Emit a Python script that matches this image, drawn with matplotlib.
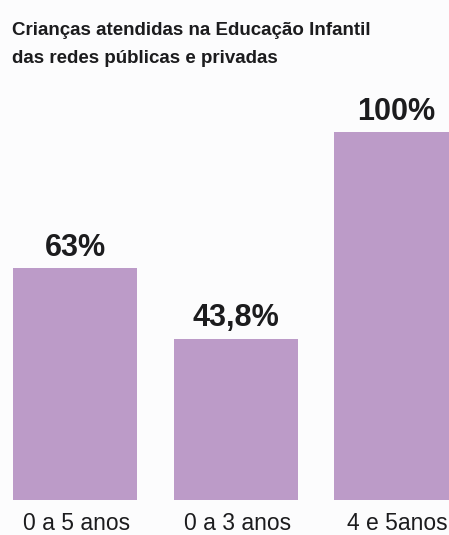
import matplotlib
matplotlib.use("Agg")
import matplotlib.pyplot as plt

# dados do gráfico
faixas = ["0 a 5 anos", "0 a 3 anos", "4 e 5anos"]
percentuais = [63.0, 43.8, 100.0]
rotulos = ["63%", "43,8%", "100%"]
titulo = "Crianças atendidas na Educação Infantil\ndas redes públicas e privadas"

roxo = "#bc9bc8"
texto = "#1c1c1e"
fundo = "#fcfcfd"
fonte = ["Liberation Sans", "DejaVu Sans"]

W, H = 449, 535
fig = plt.figure(figsize=(W / 100, H / 100), dpi=100, facecolor=fundo)

# eixo: base das barras em y=500 px, de ponta a ponta na largura
base_px = 500
ax = fig.add_axes([0, (H - base_px) / H, 1, base_px / H])
ax.set_facecolor(fundo)
passo = 160.5
x0 = 75
ax.set_xlim(-x0 / passo, (W - x0) / passo)
ax.set_ylim(0, base_px / 3.68)

pos = list(range(len(faixas)))
ax.bar(pos, percentuais, width=124 / passo, color=roxo)
for p, v, r in zip(pos, percentuais, rotulos):
    ax.annotate(r, (p, v), xytext=(0, 9), textcoords="offset points",
                ha="center", va="baseline", fontsize=22, fontweight="bold",
                family=fonte, color=texto)
ax.axis("off")

# rótulos das faixas etárias
for p, f in zip(pos, faixas):
    xf = (x0 + passo * p) / W
    fig.text(xf + 0.004, 1 - 530 / H, f, ha="center", va="baseline",
             fontsize=16.5, family=fonte, color=texto)

linhas = titulo.split("\n")
fig.text(12 / W, 1 - 35 / H, linhas[0], ha="left", va="baseline",
         fontsize=13.5, fontweight="bold", family=fonte, color=texto)
fig.text(12 / W, 1 - 63 / H, linhas[1], ha="left", va="baseline",
         fontsize=13.5, fontweight="bold", family=fonte, color=texto)

fig.savefig("out.png", dpi=100, facecolor=fundo)
